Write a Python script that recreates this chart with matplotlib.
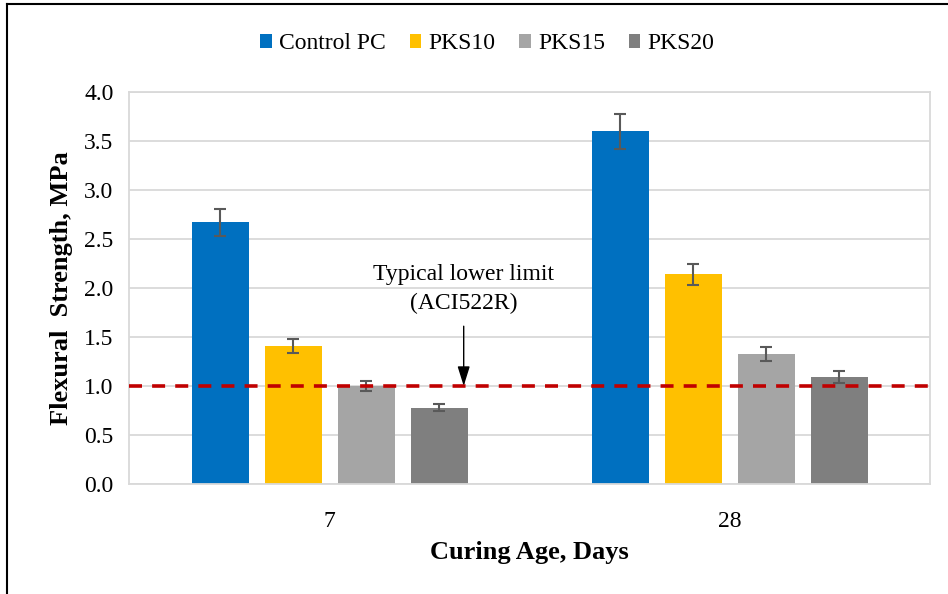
import matplotlib.pyplot as plt
import numpy as np
from matplotlib.lines import Line2D

plt.rcParams['font.family'] = ['Liberation Serif', 'DejaVu Serif']

ages = ["7", "28"]
series = ["Control PC", "PKS10", "PKS15", "PKS20"]
colors = ["#0070C0", "#FFC000", "#A5A5A5", "#7F7F7F"]
strength = {
    "Control PC": [2.67, 3.60],
    "PKS10": [1.41, 2.14],
    "PKS15": [1.00, 1.33],
    "PKS20": [0.78, 1.09],
}
errors = {
    "Control PC": [0.14, 0.18],
    "PKS10": [0.07, 0.11],
    "PKS15": [0.05, 0.07],
    "PKS20": [0.04, 0.06],
}
lower_limit = 1.0

fig = plt.figure(figsize=(9.48, 5.94), dpi=100)
ax = fig.add_axes([0.1366, 0.1852, 0.8444, 0.6599])

x = np.arange(len(ages))
width = 0.1425
step = 0.1825
for i, s in enumerate(series):
    pos = x + (i - 1.5) * step
    ax.bar(pos, strength[s], width, color=colors[i], label=s, zorder=2)
    ax.errorbar(pos, strength[s], yerr=errors[s], fmt="none", ecolor="#595959",
                elinewidth=1.5, capsize=4.5, capthick=1.5, zorder=3)

ax.axhline(lower_limit, color="#C00000", lw=2.6, dashes=(3.6, 2.8), zorder=4)

ax.annotate("", xy=(0.335, lower_limit), xytext=(0.335, 1.61),
            arrowprops=dict(arrowstyle="-|>,head_length=0.8,head_width=0.25",
                            color="black", lw=1.0, mutation_scale=15,
                            shrinkA=0, shrinkB=0), zorder=5)
ax.text(0.335, 1.99, "Typical lower limit\n(ACI522R)", ha="center", va="center",
        fontsize=17, linespacing=1.45, zorder=5)

ax.set_xlim(-0.5, 1.5)
ax.set_ylim(0, 4.0)
ax.set_yticks(np.arange(0, 4.01, 0.5))
ax.set_yticklabels([f"{v:.1f}" for v in np.arange(0, 4.01, 0.5)])
ax.set_xticks(x)
ax.set_xticklabels(ages)
ax.tick_params(axis="both", length=0, labelsize=17)
ax.tick_params(axis="y", pad=11.5)
ax.tick_params(axis="x", pad=19.5)
ax.grid(axis="y", color="#D9D9D9", lw=1.3, zorder=0)
ax.set_axisbelow(True)
for sp in ax.spines.values():
    sp.set_color("#D9D9D9")
    sp.set_linewidth(1.3)

ax.set_ylabel("Flexural  Strength, MPa", fontsize=19, fontweight="bold", labelpad=8)
ax.set_xlabel("Curing Age, Days", fontsize=19, fontweight="bold", labelpad=6.5)

handles, labels = ax.get_legend_handles_labels()
fig.legend(handles, labels, loc="center", bbox_to_anchor=(0.514, 0.926), ncol=4,
           frameon=False, fontsize=17, handlelength=0.5, handleheight=0.5,
           handletextpad=0.3, columnspacing=1.0)

# outer frame (left and top visible in the reference)
fig.add_artist(Line2D([0.0075, 0.0075], [0, 0.993], color="black", lw=1.5,
                      transform=fig.transFigure))
fig.add_artist(Line2D([0.0075, 1.0], [0.993, 0.993], color="black", lw=1.5,
                      transform=fig.transFigure))

fig.savefig("out.png", dpi=100)
